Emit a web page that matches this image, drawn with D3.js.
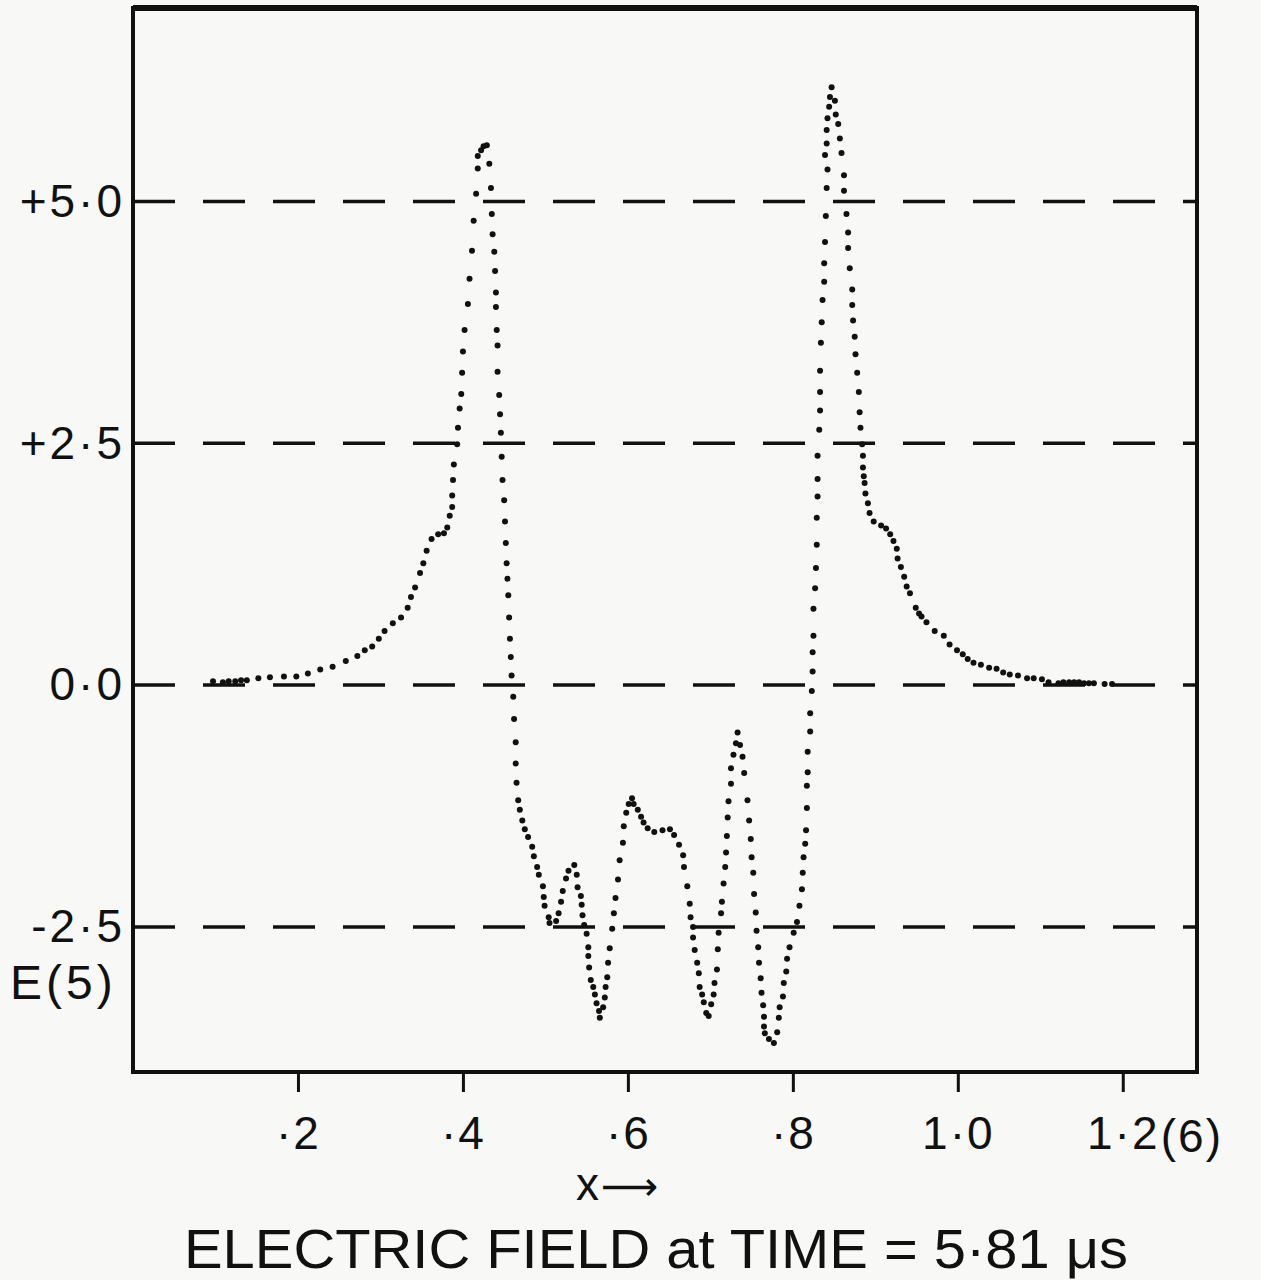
<!DOCTYPE html>
<html>
<head>
<meta charset="utf-8">
<script src="https://cdn.jsdelivr.net/npm/d3@7"></script>
<style>
  body { margin: 0; background: #f8f8f6; }
  svg { display: block; }
  text { font-family: "Liberation Sans", Arial, sans-serif; fill: #111; }
</style>
</head>
<body>
<div id="svg-container"></div>
<script>
// tick values and labels
var yTicks = [-2.5, 0, 2.5, 5];
var yTickLabels = ["-2·5", "0·0", "+2·5", "+5·0"];
var xTicks = [0.2, 0.4, 0.6, 0.8, 1.0, 1.2];
var xTickLabels = ["·2", "·4", "·6", "·8", "1·0", "1·2"];

// E(5) against x, one pair per plotted dot
var fieldSamples = [
  // flat start and rise to first peak
  [0.097,0.04],[0.109,0.03],[0.116,0.04],[0.124,0.04],[0.131,0.05],[0.138,0.05],[0.152,0.07],[0.166,0.08],
  [0.183,0.09],[0.198,0.09],[0.212,0.12],[0.227,0.16],[0.242,0.19],[0.258,0.25],[0.272,0.30],[0.281,0.36],
  [0.290,0.40],[0.298,0.48],[0.305,0.56],[0.315,0.64],[0.325,0.70],[0.333,0.80],[0.337,0.91],[0.342,1.01],
  [0.348,1.16],[0.352,1.26],[0.356,1.39],[0.362,1.51],[0.370,1.56],[0.377,1.57],[0.381,1.63],[0.384,1.75],
  [0.387,1.84],[0.387,1.96],[0.388,2.12],[0.389,2.28],[0.393,2.49],[0.394,2.66],[0.396,2.86],[0.398,3.01],
  [0.399,3.23],[0.400,3.45],[0.402,3.67],[0.406,3.94],[0.408,4.20],[0.411,4.49],[0.413,4.80],[0.416,5.08],
  [0.418,5.34],[0.418,5.47],[0.422,5.53],[0.425,5.57],[0.429,5.58],
  // fall from first peak
  [0.432,5.39],[0.434,5.14],[0.435,4.87],[0.436,4.66],[0.438,4.48],[0.439,4.28],[0.440,4.06],[0.440,3.91],
  [0.441,3.67],[0.442,3.51],[0.442,3.24],[0.444,3.00],[0.445,2.80],[0.446,2.61],[0.447,2.36],[0.448,2.12],
  [0.450,1.91],[0.451,1.69],[0.452,1.47],[0.453,1.26],[0.454,1.10],[0.455,0.93],[0.456,0.70],[0.457,0.48],
  [0.458,0.29],[0.459,0.10],[0.461,-0.12],[0.462,-0.35],[0.464,-0.59],[0.464,-0.81],[0.465,-1.01],[0.467,-1.19],
  [0.469,-1.29],[0.472,-1.40],[0.475,-1.49],[0.479,-1.57],[0.484,-1.67],[0.486,-1.77],[0.490,-1.88],[0.492,-1.96],
  [0.497,-2.08],[0.498,-2.19],[0.499,-2.28],[0.504,-2.40],[0.505,-2.46],
  // small bump and first trough
  [0.513,-2.44],[0.516,-2.36],[0.519,-2.24],[0.521,-2.13],[0.525,-2.00],[0.528,-1.92],[0.535,-1.86],[0.538,-1.96],
  [0.539,-2.09],[0.543,-2.18],[0.544,-2.27],[0.545,-2.38],[0.547,-2.48],[0.550,-2.57],[0.552,-2.71],[0.552,-2.80],
  [0.553,-2.92],[0.555,-3.05],[0.558,-3.12],[0.560,-3.20],[0.562,-3.29],[0.565,-3.37],[0.566,-3.44],
  // second bump and trough
  [0.570,-3.33],[0.572,-3.23],[0.573,-3.12],[0.575,-3.02],[0.576,-2.87],[0.578,-2.72],[0.581,-2.52],[0.583,-2.36],
  [0.585,-2.20],[0.588,-2.01],[0.590,-1.81],[0.594,-1.63],[0.595,-1.46],[0.598,-1.32],[0.601,-1.23],[0.605,-1.17],
  [0.607,-1.23],[0.612,-1.29],[0.616,-1.36],[0.619,-1.42],[0.624,-1.48],[0.632,-1.52],[0.642,-1.50],[0.651,-1.49],
  [0.656,-1.55],[0.662,-1.65],[0.667,-1.76],[0.668,-1.88],[0.672,-2.08],[0.675,-2.26],[0.676,-2.40],[0.679,-2.50],
  [0.679,-2.61],[0.681,-2.74],[0.684,-2.87],[0.686,-2.98],[0.687,-3.12],[0.690,-3.20],[0.692,-3.28],[0.695,-3.39],
  [0.698,-3.42],
  // third bump and deepest trough
  [0.701,-3.30],[0.704,-3.20],[0.705,-3.08],[0.708,-2.94],[0.709,-2.73],[0.710,-2.56],[0.713,-2.36],[0.714,-2.24],
  [0.716,-2.05],[0.718,-1.88],[0.719,-1.73],[0.720,-1.56],[0.721,-1.37],[0.722,-1.20],[0.725,-1.02],[0.725,-0.86],
  [0.728,-0.72],[0.731,-0.60],[0.733,-0.49],[0.736,-0.62],[0.739,-0.74],[0.741,-0.91],[0.745,-1.19],[0.747,-1.40],
  [0.749,-1.59],[0.750,-1.78],[0.752,-1.94],[0.753,-2.16],[0.755,-2.35],[0.756,-2.54],[0.758,-2.71],[0.759,-2.87],
  [0.761,-3.03],[0.762,-3.18],[0.764,-3.31],[0.765,-3.43],[0.765,-3.53],[0.766,-3.60],[0.771,-3.66],[0.777,-3.70],
  // rise to main peak
  [0.781,-3.59],[0.783,-3.44],[0.784,-3.33],[0.788,-3.22],[0.789,-3.08],[0.792,-2.96],[0.793,-2.83],[0.796,-2.71],
  [0.801,-2.56],[0.805,-2.45],[0.808,-2.28],[0.811,-2.11],[0.812,-1.94],[0.813,-1.78],[0.815,-1.64],[0.816,-1.50],
  [0.817,-1.27],[0.817,-1.04],[0.818,-0.90],[0.818,-0.69],[0.821,-0.48],[0.821,-0.29],[0.823,-0.06],[0.824,0.14],
  [0.824,0.34],[0.825,0.51],[0.825,0.79],[0.827,1.00],[0.828,1.21],[0.829,1.45],[0.829,1.73],[0.830,1.95],
  [0.830,2.13],[0.830,2.37],[0.832,2.64],[0.833,2.84],[0.833,3.03],[0.833,3.25],[0.834,3.54],[0.835,3.75],
  [0.836,3.98],[0.838,4.17],[0.838,4.36],[0.839,4.58],[0.840,4.85],[0.841,5.14],[0.842,5.33],[0.839,5.48],
  [0.841,5.60],[0.841,5.74],[0.842,5.86],[0.844,5.98],[0.845,6.08],[0.847,6.18],
  // fall and tail
  [0.851,6.04],[0.852,5.90],[0.855,5.80],[0.857,5.65],[0.859,5.50],[0.862,5.27],[0.862,5.11],[0.865,4.87],
  [0.867,4.68],[0.867,4.52],[0.869,4.31],[0.872,4.09],[0.872,3.93],[0.873,3.77],[0.875,3.60],[0.876,3.42],
  [0.878,3.23],[0.880,3.03],[0.881,2.82],[0.882,2.66],[0.884,2.49],[0.885,2.37],[0.885,2.25],[0.886,2.16],
  [0.887,2.09],[0.888,1.98],[0.891,1.88],[0.893,1.78],[0.898,1.69],[0.907,1.65],[0.913,1.62],[0.918,1.56],
  [0.922,1.49],[0.926,1.41],[0.927,1.31],[0.931,1.22],[0.935,1.12],[0.938,1.02],[0.942,0.95],[0.949,0.80],
  [0.953,0.74],[0.956,0.71],[0.962,0.65],[0.972,0.56],[0.983,0.51],[0.990,0.42],[0.999,0.36],[1.006,0.32],
  [1.012,0.27],[1.019,0.23],[1.028,0.21],[1.038,0.18],[1.047,0.17],[1.055,0.13],[1.063,0.11],[1.073,0.10],
  [1.084,0.07],[1.092,0.07],[1.102,0.06],[1.110,0.03],[1.122,0.02],[1.128,0.03],[1.135,0.03],[1.141,0.03],
  [1.147,0.03],[1.153,0.02],[1.159,0.02],[1.165,0.02],[1.178,0.01],[1.187,0.01]
];

var width = 1261;
var height = 1280;

var svg = d3.select("#svg-container")
  .append("svg")
  .attr("width", width)
  .attr("height", height);

// scales, frame runs 133..1197 by 8..1072
var xscale = d3.scaleLinear().domain([0, 1.29]).range([133, 1197]);
var yscale = d3.scaleLinear().domain([-4, 7]).range([1072, 8]);

// dashed reference lines
svg.selectAll(".grid")
  .data(yTicks)
  .enter()
  .append("line")
  .attr("class", "grid")
  .attr("x1", xscale(0))
  .attr("x2", xscale(1.29))
  .attr("y1", d => yscale(d))
  .attr("y2", d => yscale(d))
  .attr("stroke", "#111")
  .attr("stroke-width", 3.5)
  .attr("stroke-dasharray", "42 28");

// frame
svg.append("rect")
  .attr("x", xscale(0))
  .attr("y", yscale(7))
  .attr("width", xscale(1.29) - xscale(0))
  .attr("height", yscale(-4) - yscale(7))
  .attr("fill", "none")
  .attr("stroke", "#111")
  .attr("stroke-width", 4);

// heavier top edge, as drawn
svg.append("line")
  .attr("x1", xscale(0))
  .attr("x2", xscale(1.29))
  .attr("y1", yscale(7))
  .attr("y2", yscale(7))
  .attr("stroke", "#111")
  .attr("stroke-width", 6);

// x axis ticks below the frame
var x_axis = d3.axisBottom(xscale)
  .tickValues(xTicks)
  .tickSize(20)
  .tickPadding(24)
  .tickFormat((d, i) => xTickLabels[i]);

var gx = svg.append("g")
  .attr("transform", "translate(0," + yscale(-4) + ")")
  .call(x_axis);
gx.select(".domain").remove();
gx.selectAll(".tick line").attr("stroke", "#111").attr("stroke-width", 3);
gx.selectAll(".tick text")
  .attr("font-size", 46)
  .attr("letter-spacing", 2)
  .attr("font-family", "Liberation Sans, Arial, sans-serif")
  .attr("fill", "#111");

svg.append("text")
  .attr("x", xscale(1.2) + 38)
  .attr("y", yscale(-4) + 80)
  .attr("font-size", 46)
  .attr("letter-spacing", 2)
  .text("(6)");

// y axis labels
var y_axis = d3.axisLeft(yscale)
  .tickValues(yTicks)
  .tickSize(0)
  .tickPadding(8)
  .tickFormat((d, i) => yTickLabels[i]);

var gy = svg.append("g")
  .attr("transform", "translate(" + xscale(0) + ",0)")
  .call(y_axis);
gy.select(".domain").remove();
gy.selectAll(".tick text")
  .attr("font-size", 46)
  .attr("letter-spacing", 3)
  .attr("font-family", "Liberation Sans, Arial, sans-serif")
  .attr("fill", "#111");

svg.append("text")
  .attr("x", 10)
  .attr("y", yscale(-3.25))
  .attr("font-size", 48)
  .attr("letter-spacing", 4)
  .text("E(5)");

// axis name and title
var xName = svg.append("text")
  .attr("x", xscale(0.6) - 52)
  .attr("y", 1200)
  .attr("font-size", 46);
xName.append("tspan").text("x");
xName.append("tspan")
  .attr("font-family", "DejaVu Sans, sans-serif")
  .attr("font-size", 40)
  .attr("dx", 2)
  .text("⟶");

svg.append("text")
  .attr("x", 184)
  .attr("y", 1268)
  .attr("font-size", 56)
  .attr("textLength", 944)
  .attr("lengthAdjust", "spacingAndGlyphs")
  .text("ELECTRIC FIELD at TIME = 5·81 μs");

// the dotted field curve
svg.selectAll(".dot")
  .data(fieldSamples)
  .enter()
  .append("circle")
  .attr("class", "dot")
  .attr("cx", d => xscale(d[0]))
  .attr("cy", d => yscale(d[1]))
  .attr("r", 3)
  .attr("fill", "#111");
</script>
</body>
</html>
